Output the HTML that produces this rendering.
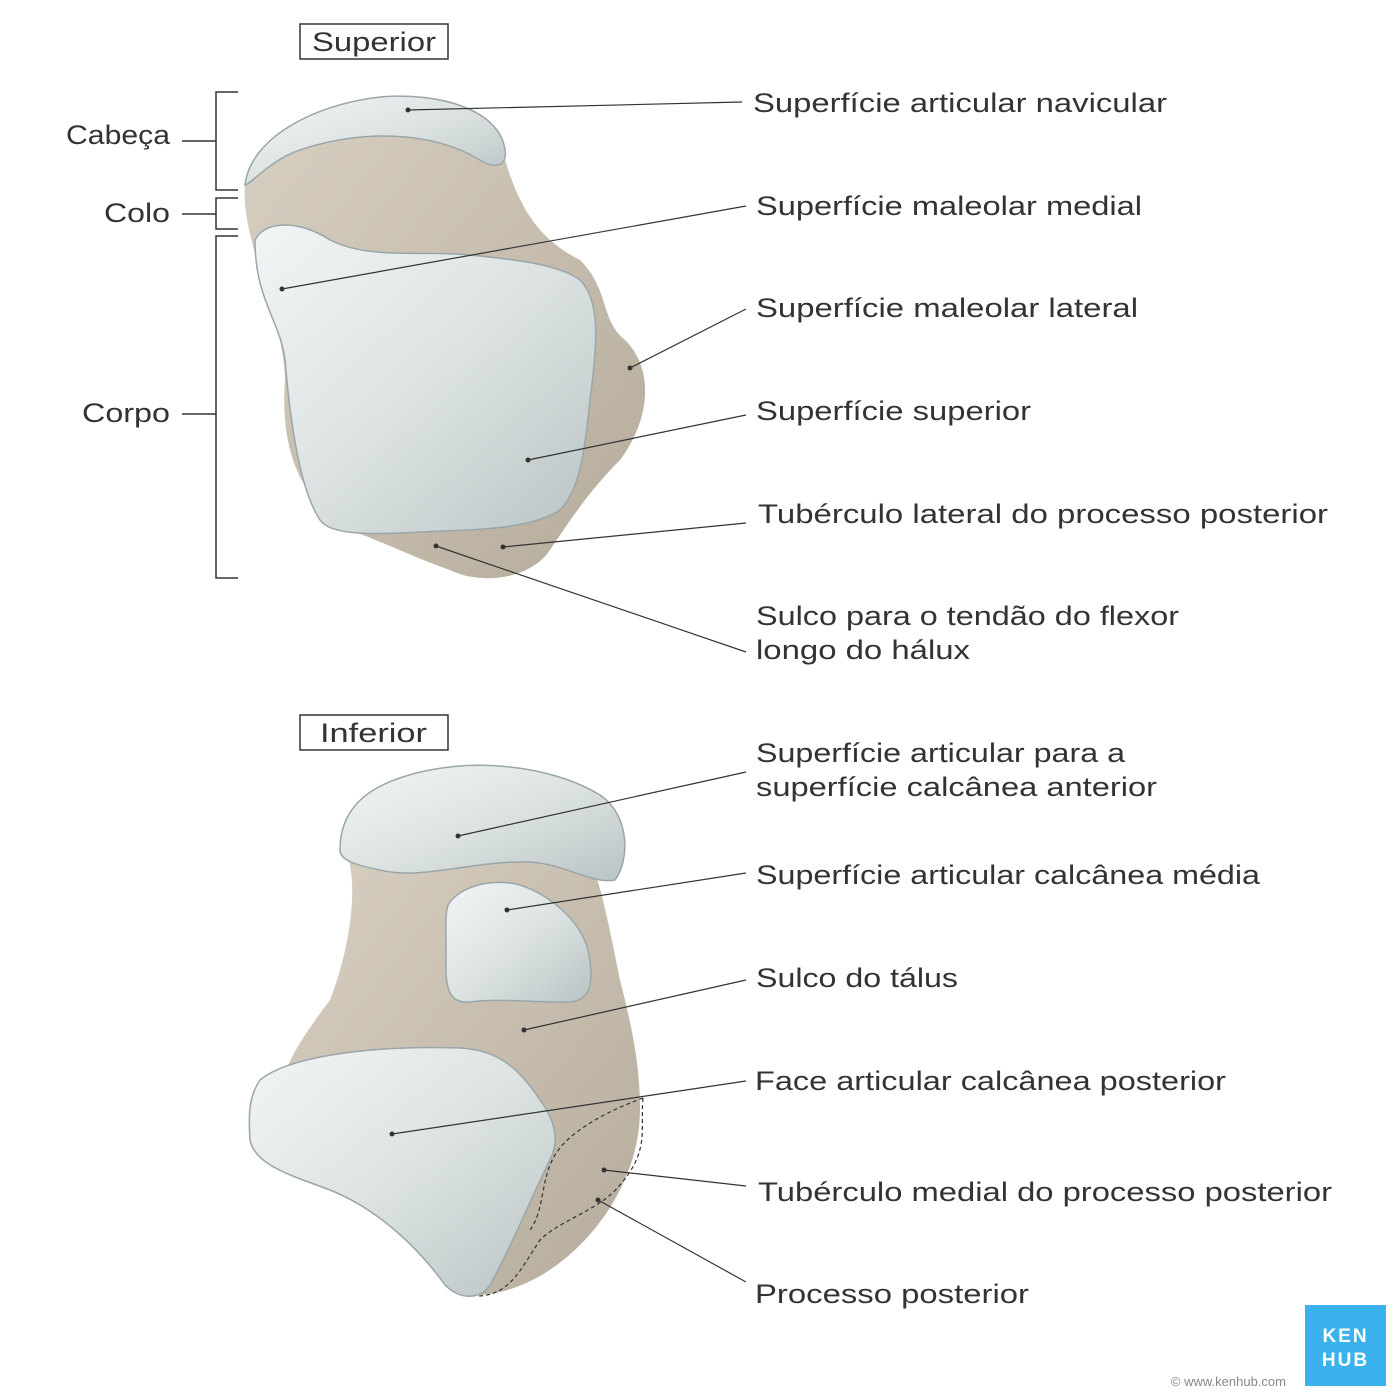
<!DOCTYPE html>
<html><head><meta charset="utf-8"><style>
html,body{margin:0;padding:0;background:#fff;}
svg{display:block;}
text{font-family:"Liberation Sans",sans-serif;fill:#333;}
</style></head><body>
<svg width="1400" height="1400" viewBox="0 0 1400 1400" xmlns="http://www.w3.org/2000/svg">
<defs>
<linearGradient id="cart" x1="0" y1="0" x2="1" y2="1">
<stop offset="0" stop-color="#f2f5f5"/><stop offset="0.5" stop-color="#dde3e3"/><stop offset="1" stop-color="#b9c3c4"/>
</linearGradient>
<linearGradient id="bone" x1="0" y1="0" x2="1" y2="1">
<stop offset="0" stop-color="#d8d0c2"/><stop offset="1" stop-color="#b5ab9b"/>
</linearGradient>
</defs>

<rect x="300" y="24" width="148" height="35" fill="#fff" stroke="#333" stroke-width="1.5"/>
<text x="312" y="51" font-size="27" textLength="124" lengthAdjust="spacingAndGlyphs">Superior</text>
<rect x="300" y="715" width="148" height="35" fill="#fff" stroke="#333" stroke-width="1.5"/>
<text x="320" y="742" font-size="27" textLength="107" lengthAdjust="spacingAndGlyphs">Inferior</text>

<g stroke="#333" stroke-width="1.5" fill="none">
<path d="M238 92 H216 V190 H238"/><path d="M182 141 H216"/>
<path d="M238 198 H216 V229 H238"/><path d="M182 214 H216"/>
<path d="M238 236 H216 V578 H238"/><path d="M182 414 H216"/>
</g>
<text x="66" y="144" font-size="27" textLength="104" lengthAdjust="spacingAndGlyphs">Cabeça</text>
<text x="104" y="222" font-size="27" textLength="66" lengthAdjust="spacingAndGlyphs">Colo</text>
<text x="82" y="422" font-size="27" textLength="88" lengthAdjust="spacingAndGlyphs">Corpo</text>

<path d="M245 185 C250 150 300 110 380 100 C450 95 500 120 505 160 C520 210 540 240 580 260 C610 290 600 320 625 340 C655 370 650 420 620 460 C590 490 570 520 550 550 C530 580 480 585 450 570 C420 560 390 545 350 530 C300 500 280 450 285 380 C285 320 240 240 245 185Z" fill="url(#bone)"/>
<path d="M245 185 C250 140 310 105 380 97 C440 92 500 110 505 150 C508 165 495 170 480 160 C430 130 360 130 300 150 C270 160 250 185 245 185Z" fill="url(#cart)" stroke="#9aa6a8" stroke-width="1.5"/>
<path d="M255 240 C265 220 300 220 330 240 C370 260 420 250 470 255 C520 260 560 265 580 280 C600 300 598 340 590 400 C585 450 580 490 560 510 C530 530 470 530 420 532 C370 535 330 535 320 520 C300 490 290 420 285 360 C280 320 255 300 255 240Z" fill="url(#cart)" stroke="#9aa6a8" stroke-width="1.5"/>

<path d="M345 850 C360 880 350 950 330 1000 C300 1040 280 1070 280 1100 L480 1295 C560 1290 640 1200 640 1110 C640 1060 630 1020 620 980 C610 930 600 880 590 860Z" fill="url(#bone)"/>
<path d="M340 850 C340 800 380 780 430 770 C490 758 560 770 600 795 C630 815 630 860 615 880 C590 885 560 860 520 862 C470 862 420 880 380 870 C355 865 340 860 340 850Z" fill="url(#cart)" stroke="#9aa6a8" stroke-width="1.5"/>
<path d="M448 905 C460 885 495 878 520 885 C550 895 580 920 588 950 C595 985 590 1000 570 1002 C540 1003 500 998 470 1002 C450 1004 445 990 446 960 C446 930 445 915 448 905Z" fill="url(#cart)" stroke="#9aa6a8" stroke-width="1.5"/>
<path d="M260 1080 C290 1055 380 1045 460 1048 C500 1050 520 1070 540 1100 C555 1120 560 1140 550 1160 C530 1200 510 1250 490 1285 C480 1300 460 1300 445 1285 C420 1250 380 1210 330 1190 C290 1175 255 1165 250 1140 C248 1110 250 1095 260 1080Z" fill="url(#cart)" stroke="#9aa6a8" stroke-width="1.5"/>
<path d="M643 1098 C640 1130 650 1150 620 1185 C600 1210 560 1220 540 1240 C520 1270 510 1295 478 1296" fill="none" stroke="#333" stroke-width="1.2" stroke-dasharray="4,3"/>
<path d="M643 1098 C610 1110 570 1130 555 1155 C540 1180 545 1210 530 1230" fill="none" stroke="#333" stroke-width="1.2" stroke-dasharray="4,3"/>

<g stroke="#333" stroke-width="1.2" fill="none">
<line x1="408" y1="110" x2="742" y2="102"/>
<line x1="282" y1="289" x2="746" y2="206"/>
<line x1="630" y1="368" x2="746" y2="309"/>
<line x1="528" y1="460" x2="746" y2="415"/>
<line x1="503" y1="547" x2="746" y2="523"/>
<line x1="436" y1="546" x2="746" y2="652"/>
<line x1="458" y1="836" x2="746" y2="772"/>
<line x1="507" y1="910" x2="746" y2="873"/>
<line x1="524" y1="1030" x2="746" y2="980"/>
<line x1="392" y1="1134" x2="746" y2="1081"/>
<line x1="604" y1="1170" x2="746" y2="1186"/>
<line x1="598" y1="1200" x2="746" y2="1282"/>
</g>
<g fill="#333">
<circle cx="408" cy="110" r="2.5"/><circle cx="282" cy="289" r="2.5"/><circle cx="630" cy="368" r="2.5"/>
<circle cx="528" cy="460" r="2.5"/><circle cx="503" cy="547" r="2.5"/><circle cx="436" cy="546" r="2.5"/>
<circle cx="458" cy="836" r="2.5"/><circle cx="507" cy="910" r="2.5"/><circle cx="524" cy="1030" r="2.5"/>
<circle cx="392" cy="1134" r="2.5"/><circle cx="604" cy="1170" r="2.5"/><circle cx="598" cy="1200" r="2.5"/>
</g>

<g font-size="27">
<text x="753" y="112" textLength="414" lengthAdjust="spacingAndGlyphs">Superfície articular navicular</text>
<text x="756" y="215" textLength="386" lengthAdjust="spacingAndGlyphs">Superfície maleolar medial</text>
<text x="756" y="317" textLength="382" lengthAdjust="spacingAndGlyphs">Superfície maleolar lateral</text>
<text x="756" y="420" textLength="275" lengthAdjust="spacingAndGlyphs">Superfície superior</text>
<text x="758" y="523" textLength="570" lengthAdjust="spacingAndGlyphs">Tubérculo lateral do processo posterior</text>
<text x="756" y="625" textLength="423" lengthAdjust="spacingAndGlyphs">Sulco para o tendão do flexor</text>
<text x="756" y="659" textLength="214" lengthAdjust="spacingAndGlyphs">longo do hálux</text>
<text x="756" y="762" textLength="369" lengthAdjust="spacingAndGlyphs">Superfície articular para a</text>
<text x="756" y="796" textLength="401" lengthAdjust="spacingAndGlyphs">superfície calcânea anterior</text>
<text x="756" y="884" textLength="504" lengthAdjust="spacingAndGlyphs">Superfície articular calcânea média</text>
<text x="756" y="987" textLength="202" lengthAdjust="spacingAndGlyphs">Sulco do tálus</text>
<text x="755" y="1090" textLength="471" lengthAdjust="spacingAndGlyphs">Face articular calcânea posterior</text>
<text x="758" y="1201" textLength="574" lengthAdjust="spacingAndGlyphs">Tubérculo medial do processo posterior</text>
<text x="755" y="1303" textLength="274" lengthAdjust="spacingAndGlyphs">Processo posterior</text>
</g>

<rect x="1305" y="1305" width="81" height="81" fill="#3bb2ee"/>
<text x="1345.5" y="1342" font-size="19" font-weight="bold" text-anchor="middle" style="fill:#fff" letter-spacing="2">KEN</text>
<text x="1345.5" y="1366" font-size="19" font-weight="bold" text-anchor="middle" style="fill:#fff" letter-spacing="2">HUB</text>
<text x="1286" y="1386" font-size="13" text-anchor="end" style="fill:#888">© www.kenhub.com</text>
</svg>
</body></html>
